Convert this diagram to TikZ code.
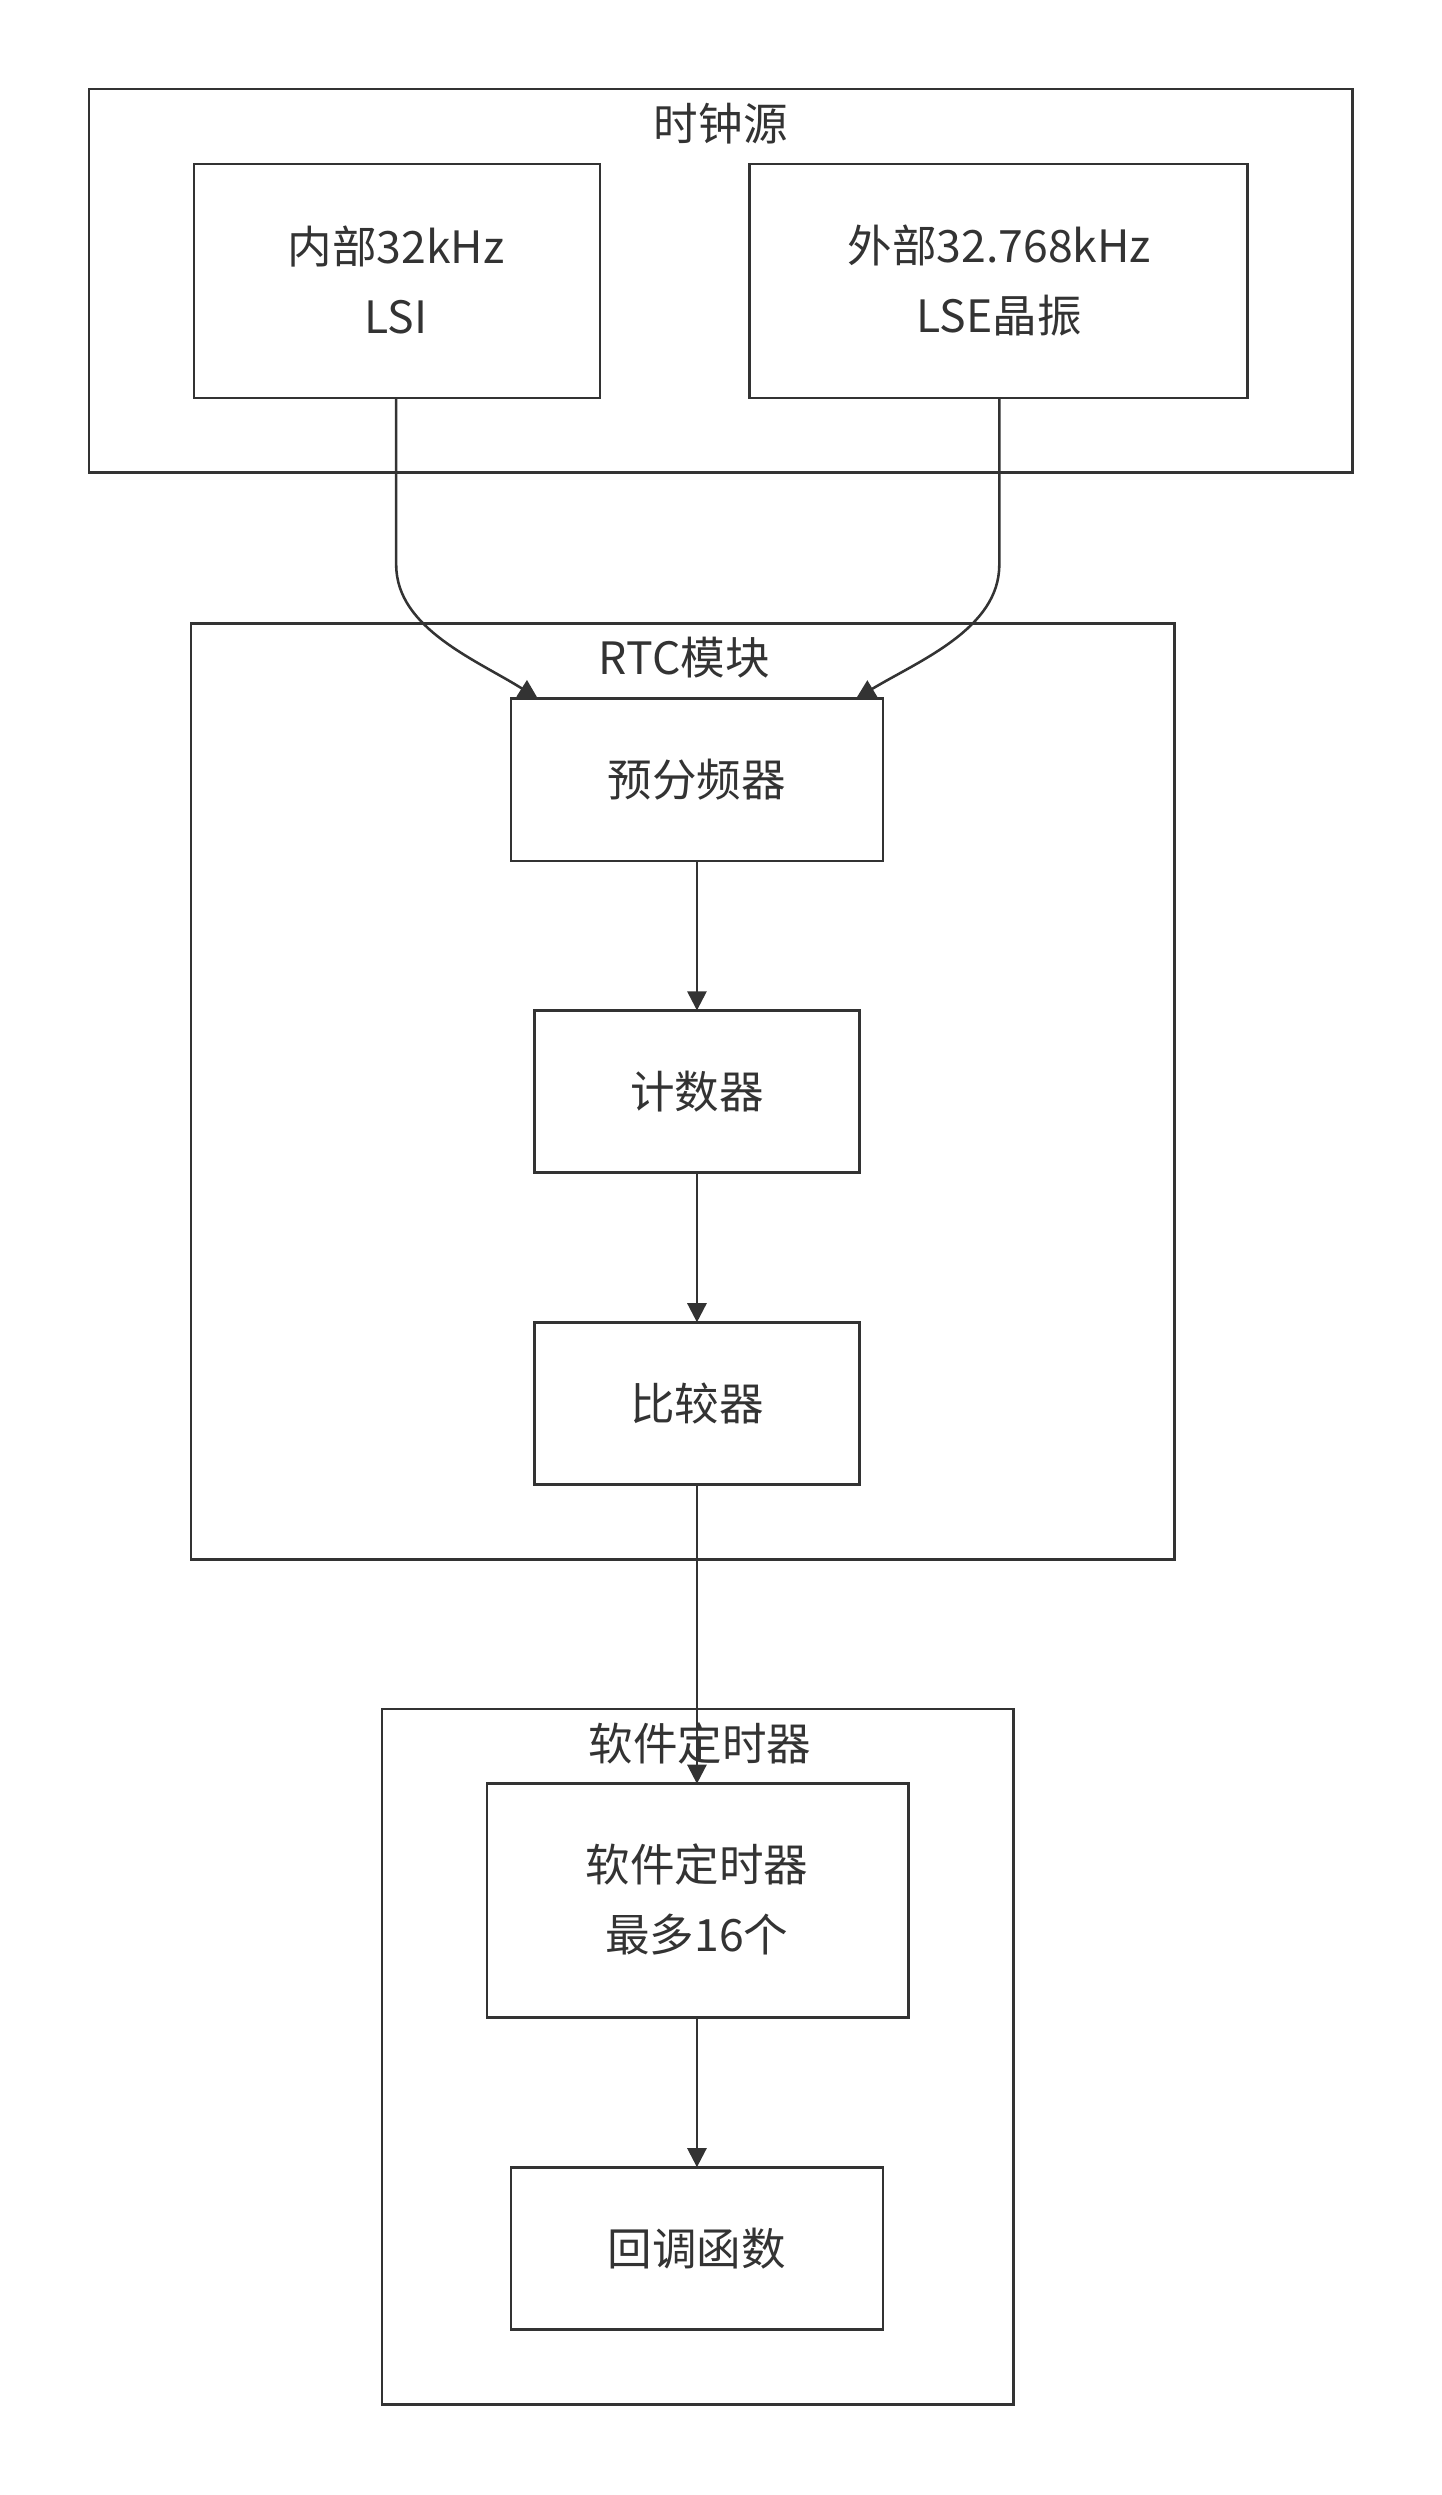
\documentclass[tikz,border=0pt]{standalone}
\usepackage{fontspec}
\setmainfont{Noto Sans CJK SC}
\usetikzlibrary{arrows.meta}
\begin{document}
\begin{tikzpicture}[x=0.5pt,y=-0.5pt,
  box/.style={draw=black!80,line width=0.8pt},
  lbl/.style={font=\fontsize{14}{19}\selectfont,text=black!80,align=center},
  arr/.style={draw=black!80,line width=0.8pt,-{Triangle[length=6pt,width=6pt]}}]
\useasboundingbox (0,0) rectangle (906,1568);
\draw[box] (56,56) rectangle (850,297);
\node[lbl] (t1) at (453,78) {时钟源};
\draw[box] (122,103) rectangle (377,250);
\node[lbl] (lsi) at (249,176) {内部32kHz\\[3pt]LSI};
\draw[box] (471,103) rectangle (784,250);
\node[lbl] (lse) at (628,176) {外部32.768kHz\\[3pt]LSE晶振};
\draw[box] (120,392) rectangle (738,980);
\node[lbl] (t2) at (430,413) {RTC模块};
\draw[box] (321,439) rectangle (555,541);
\node[lbl] (p) at (438,490) {预分频器};
\draw[box] (336,635) rectangle (540,737);
\node[lbl] (c) at (438,686) {计数器};
\draw[box] (336,831) rectangle (540,933);
\node[lbl] (cmp) at (438,882) {比较器};
\draw[box] (240,1074) rectangle (637,1511);
\node[lbl] (t3) at (440,1096) {软件定时器};
\draw[box] (306,1121) rectangle (571,1268);
\node[lbl] (st) at (438,1194) {软件定时器\\[3pt]最多16个};
\draw[box] (321,1362) rectangle (555,1464);
\node[lbl] (cb) at (438,1413) {回调函数};
\draw[arr] (249,250) -- (249,355) .. controls (249,395) and (300,415) .. (338,439);
\draw[arr] (628,250) -- (628,355) .. controls (628,395) and (578,415) .. (538,439);
\draw[arr] (438,541) -- (438,635);
\draw[arr] (438,737) -- (438,831);
\draw[arr] (438,933) -- (438,1121);
\draw[arr] (438,1268) -- (438,1362);
\end{tikzpicture}
\end{document}
